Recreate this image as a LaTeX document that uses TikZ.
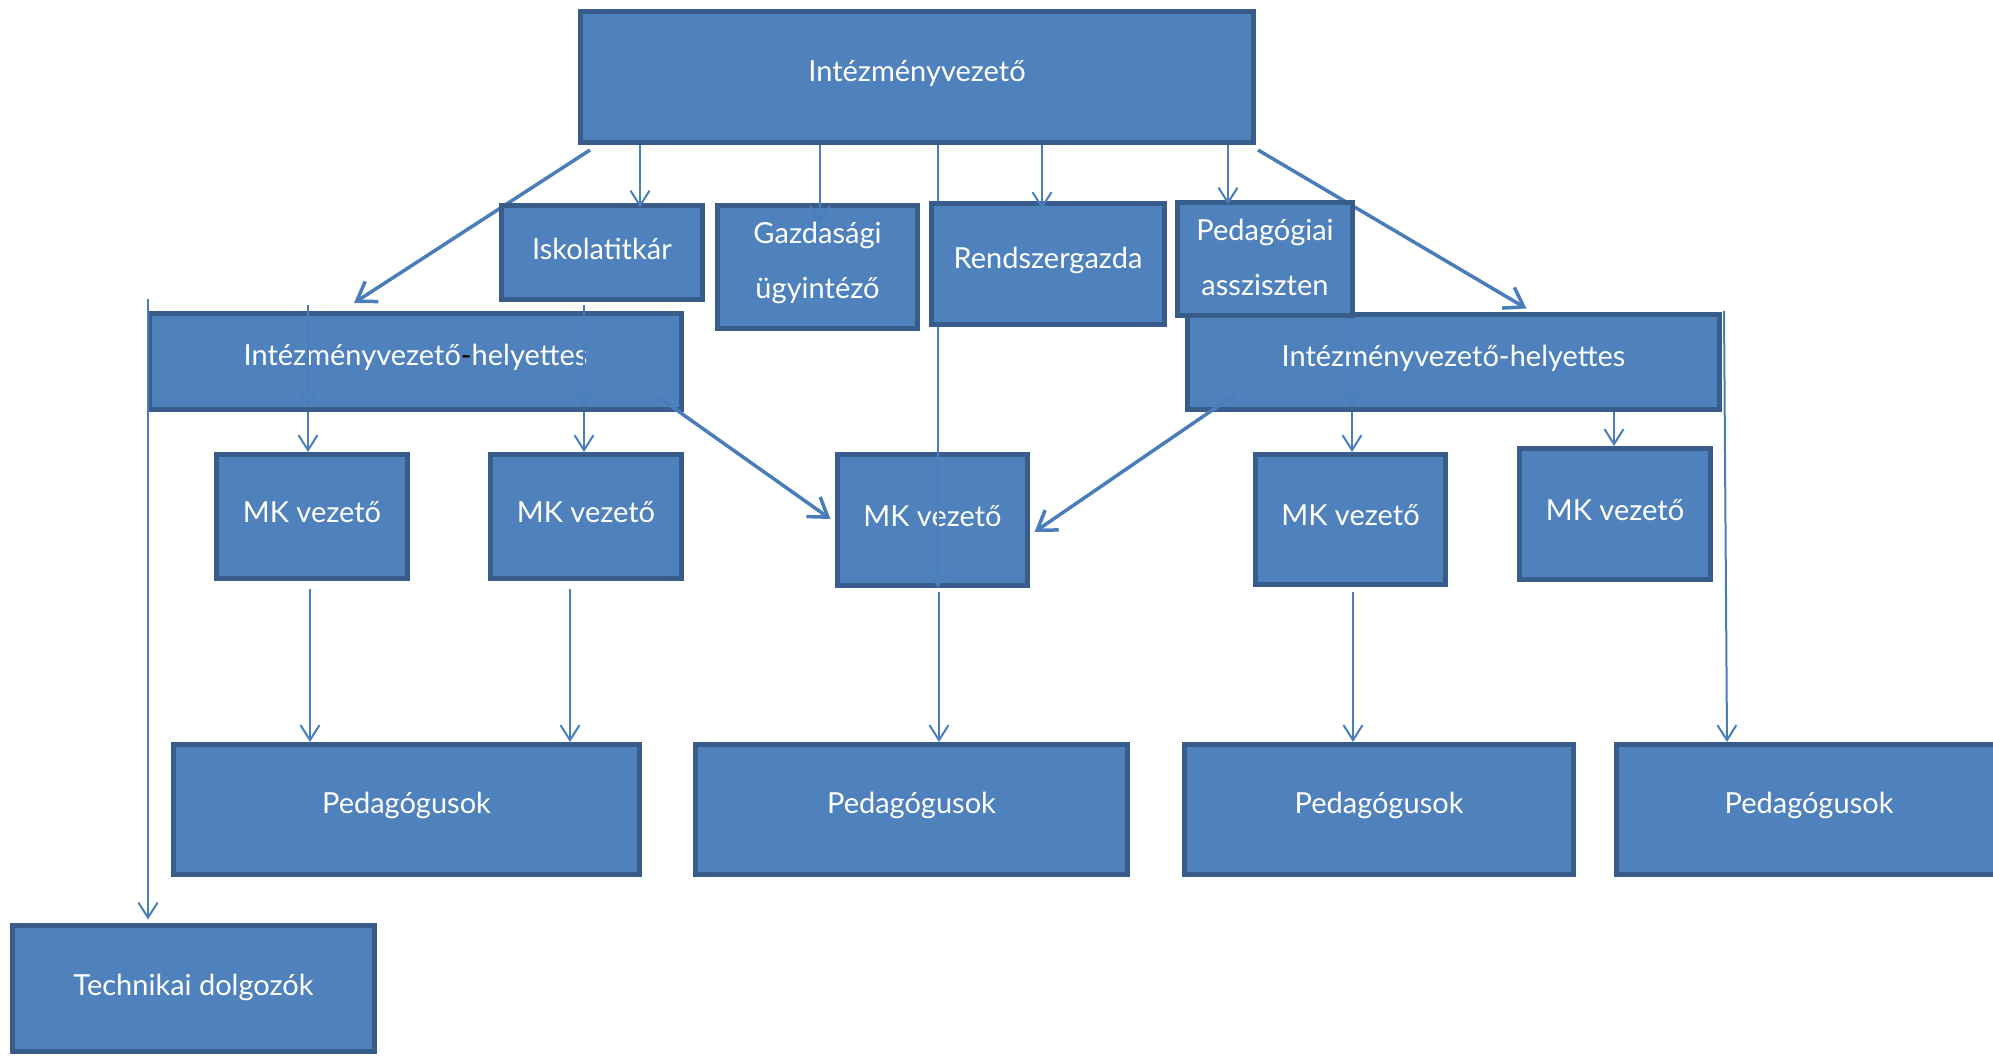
\documentclass[tikz,border=0pt]{standalone}
\usepackage{fontspec}
\setmainfont{Lato}
\usetikzlibrary{arrows.meta,calc}
\definecolor{boxfill}{HTML}{4F81BD}
\definecolor{boxline}{HTML}{385D8A}
\definecolor{conncol}{HTML}{4A7EBB}
\newcommand{\upt}[1]{\raisebox{4pt}[\height][\depth]{#1}}
\newcommand{\uptt}[3]{\raisebox{#1}[\height][\depth]{\begin{tabular}{@{}c@{}}#2\\#3\end{tabular}}}
\begin{document}
\begin{tikzpicture}[x=1pt,y=-1pt,
  orgbox/.style={draw=boxline, fill=boxfill, line width=5pt, text=white,
    font=\fontsize{29}{55}\selectfont, inner sep=0pt, align=center},
  conn/.style={draw=conncol, line width=2pt, -{Straight Barb[length=15pt,width=19pt]}},
  thickconn/.style={draw=conncol, line width=3.5pt, -{Straight Barb[length=18pt,width=24pt]}}]
\path[use as bounding box, clip] (0,0) rectangle (1993,1056);

% boxes that lie under some connectors
\node[orgbox, minimum width=673pt, minimum height=131pt] (top) at (917,77) {\upt{Intézményvezető}};
\node[orgbox, minimum width=190pt, minimum height=131pt] (mkc) at (932.5,520) {\upt{MK vezető}};
\node[orgbox, minimum width=532pt, minimum height=96pt] (ivhL) at (415.5,361.5) {\upt{Intézményvezető{\color{black}-}helyettes}};
\node[orgbox, minimum width=532pt, minimum height=95pt] (ivhR) at (1453.5,362) {\upt{Intézményvezető-helyettes}};

% connectors drawn beneath the other boxes
\coordinate (xc) at (938,0);
\draw[conn] (top.south -| xc) -- (mkc.south -| xc);
\draw[thickconn] ($(top.south west)+(12,5)$) -- ($(ivhL.north west)+(207,-8)$);
\draw[thickconn] ($(top.south east)+(2,5)$) -- ($(ivhR.north west)+(341.5,-3.5)$);

% remaining boxes
\node[orgbox, minimum width=201pt, minimum height=94pt] (isk) at (602,252.5) {\upt{Iskolatitkár}};
\node[orgbox, minimum width=200pt, minimum height=123pt] (gazd) at (817.5,267) {\uptt{7pt}{Gazdasági}{ügyintéző}};
\node[orgbox, minimum width=233pt, minimum height=121pt] (rendsz) at (1048,264) {\upt{Rendszergazda}};
\node[orgbox, minimum width=175pt, minimum height=113pt] (pedassz) at (1265,259) {\uptt{2pt}{Pedagógiai}{assziszten}};
\node[orgbox, minimum width=191pt, minimum height=124pt] (mk1) at (312,516.5) {\upt{MK vezető}};
\node[orgbox, minimum width=191pt, minimum height=124pt] (mk2) at (586,516.5) {\upt{MK vezető}};
\node[orgbox, minimum width=190pt, minimum height=130pt] (mk4) at (1350.5,519.5) {\upt{MK vezető}};
\node[orgbox, minimum width=191pt, minimum height=131pt] (mk5) at (1615,514) {\upt{MK vezető}};
\node[orgbox, minimum width=466pt, minimum height=130pt] (ped1) at (406.5,809.5) {\upt{Pedagógusok}};
\node[orgbox, minimum width=432pt, minimum height=130pt] (ped2) at (911.5,809.5) {\upt{Pedagógusok}};
\node[orgbox, minimum width=389pt, minimum height=130pt] (ped3) at (1379,809.5) {\upt{Pedagógusok}};
\node[orgbox, minimum width=385pt, minimum height=130pt] (ped4) at (1809,809.5) {\upt{Pedagógusok}};
\node[orgbox, minimum width=362pt, minimum height=126pt] (tech) at (193.5,988.5) {\raisebox{1pt}[\height][\depth]{Technikai dolgozók}};

% connectors on top
\coordinate (xI) at (640,0);
\coordinate (xG) at (820,0);
\coordinate (xR) at (1042,0);
\coordinate (xP) at (1228,0);
\draw[conn, shorten >=-4.5pt] (top.south -| xI) -- (isk.north -| xI);
\draw[conn, shorten >=-20pt] (top.south -| xG) -- (gazd.north -| xG);
\draw[conn, shorten >=-8pt] (top.south -| xR) -- (rendsz.north -| xR);
\draw[conn, shorten >=-4.5pt] (top.south -| xP) -- (pedassz.north -| xP);

\coordinate (xL1) at (308,0);
\coordinate (xL2) at (584,0);
\draw[conn, shorten <=-6pt, shorten >=5pt] (ivhL.north -| xL1) -- (ivhL.south -| xL1);
\draw[conn] (ivhL.south -| xL1) -- (mk1.north -| xL1);
\draw[conn, shorten <=-6pt, shorten >=5pt] (ivhL.north -| xL2) -- (ivhL.south -| xL2);
\draw[conn] (ivhL.south -| xL2) -- (mk2.north -| xL2);

\coordinate (xR1) at (1352,0);
\coordinate (xR2) at (1614,0);
\draw[conn, shorten >=5pt] (pedassz.south -| xR1) -- (ivhR.south -| xR1);
\draw[conn] (ivhR.south -| xR1) -- (mk4.north -| xR1);
\draw[conn] (ivhR.south -| xR2) -- (mk5.north -| xR2);

\draw[thickconn] ($(ivhL.south east)+(-26.5,-15.5)$) -- ($(mkc.west)+(-4.5,-1)$);
\draw[thickconn] ($(ivhR.south west)+(51.5,-18.5)$) -- ($(mkc.east)+(4.5,12)$);

\coordinate (xT) at (148,0);
\draw[conn, shorten <=-12pt, shorten >=3.5pt] (ivhL.north -| xT) -- (tech.north -| xT);
\coordinate (xE) at (1727,0);
\draw[conn] ($(ivhR.north east)+(2,-1)$) -- (ped4.north -| xE);

\coordinate (xB1) at (310,0);
\coordinate (xB2) at (570,0);
\coordinate (xB4) at (1353,0);
\coordinate (xB3) at (939,0);
\draw[conn, shorten <=8pt] (mk1.south -| xB1) -- (ped1.north -| xB1);
\draw[conn, shorten <=8pt] (mk2.south -| xB2) -- (ped1.north -| xB2);
\draw[conn, shorten <=5pt] (mk4.south -| xB4) -- (ped3.north -| xB4);
\draw[conn, shorten <=4pt] (mkc.south -| xB3) -- (ped2.north -| xB3);
\end{tikzpicture}
\end{document}
